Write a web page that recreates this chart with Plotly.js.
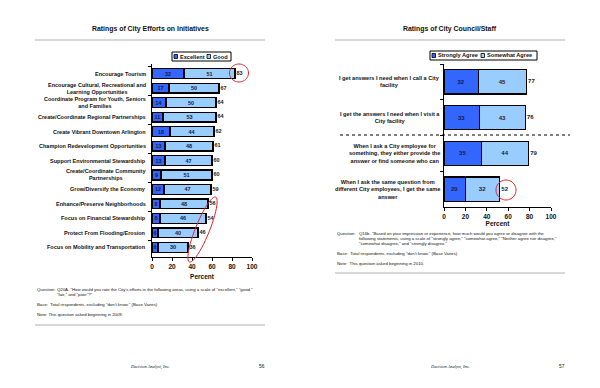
<!DOCTYPE html>
<html>
<head>
<meta charset="utf-8">
<script src="https://cdn.plot.ly/plotly-3.0.1.min.js"></script>
<style>html,body{margin:0;padding:0;background:#fff;}#chart{width:600px;height:388px;}</style>
</head>
<body>
<div id="chart"></div>
<script>
// ---------- DATA ----------
var initiatives = [
  "Encourage Tourism",
  "Encourage Cultural, Recreational and<br>Learning Opportunities",
  "Coordinate Program for Youth, Seniors<br>and Families",
  "Create/Coordinate Regional Partnerships",
  "Create Vibrant Downtown Arlington",
  "Champion Redevelopment Opportunities",
  "Support Environmental Stewardship",
  "Create/Coordinate Community<br>Partnerships",
  "Grow/Diversify the Economy",
  "Enhance/Preserve Neighborhoods",
  "Focus on Financial Stewardship",
  "Protect From Flooding/Erosion",
  "Focus on Mobility and Transportation"
];
var excellent = [32, 17, 14, 11, 18, 13, 13, 9, 12, 8, 8, 6, 6];
var good      = [51, 50, 50, 53, 44, 48, 47, 51, 47, 48, 46, 40, 30];
var effortTotals = [83, 67, 64, 64, 62, 61, 60, 60, 59, 56, 54, 46, 36];

var statements = [
  "I get answers I need when I call a City<br>facility",
  "I get the answers I need when I visit a<br>City facility",
  "When I ask a City employee for<br>something, they either provide the<br>answer or find someone who can",
  "When I ask the same question from<br>different City employees, I get the same<br>answer"
];
var stronglyAgree  = [32, 33, 35, 20];
var somewhatAgree  = [45, 43, 44, 32];
var agreeTotals    = [77, 76, 79, 52];

var xTicks = [0, 20, 40, 60, 80, 100];

// ---------- STYLE ----------
var DARK = "#3366FF", LIGHT = "#99CCFF", INK = "#000000";
var FONT = "Liberation Sans, Arial, sans-serif";
var W = 600, H = 388;
function px(x){ return x / W; }
function py(y){ return 1 - y / H; }

var leftIds = initiatives.map(function(_, i){ return "L" + i; });
var rightIds = statements.map(function(_, i){ return "R" + i; });

function barTrace(ids, vals, color, name, xa, ya, size){
  return {
    type: "bar", orientation: "h", x: vals, y: ids, name: name,
    xaxis: xa, yaxis: ya,
    marker: {color: color, line: {color: INK, width: 1.2}},
    text: vals.map(String), textposition: "inside", insidetextanchor: "middle",
    constraintext: "none", textangle: 0,
    textfont: {family: FONT, size: size, color: "#1a1a40", weight: "bold"},
    hoverinfo: "x+y", showlegend: false
  };
}
function totalTrace(ids, vals, xa, ya, size){
  return {
    type: "scatter", mode: "text", x: vals, y: ids, xaxis: xa, yaxis: ya,
    text: vals.map(function(v){ return "\u00a0" + v; }), textposition: "middle right",
    textfont: {family: FONT, size: size, color: "#222", weight: "bold"},
    hoverinfo: "skip", showlegend: false, cliponaxis: false
  };
}

var data = [
  barTrace(leftIds, excellent, DARK, "Excellent", "x", "y", 5.5),
  barTrace(leftIds, good, LIGHT, "Good", "x", "y", 5.5),
  totalTrace(leftIds, effortTotals, "x", "y", 5.5),
  barTrace(rightIds, stronglyAgree, DARK, "Strongly Agree", "x2", "y2", 6),
  barTrace(rightIds, somewhatAgree, LIGHT, "Somewhat Agree", "x2", "y2", 6),
  totalTrace(rightIds, agreeTotals, "x2", "y2", 6)
];

function xAxis(domain, anchor, standoff){
  return {
    domain: domain, anchor: anchor, range: [0, 100], tickvals: xTicks,
    showline: true, linecolor: INK, linewidth: 1.2, ticks: "outside", ticklen: 3,
    tickcolor: INK, showgrid: false, zeroline: false, fixedrange: true,
    tickfont: {family: FONT, size: 6.5, color: "#111", weight: "bold"},
    title: {text: "Percent", font: {family: FONT, size: 6.5, color: "#111", weight: "bold"}, standoff: standoff}
  };
}
function yAxis(domain, anchor){
  return {
    domain: domain, anchor: anchor, type: "category", autorange: "reversed",
    showline: true, linecolor: INK, linewidth: 1.2, ticks: "outside", ticklen: 3,
    tickcolor: INK, tickson: "boundaries", showticklabels: false, showgrid: false,
    zeroline: false, fixedrange: true
  };
}

var annotations = [];
var shapes = [];

// category labels (centered multi-line, right edge near axis)
initiatives.forEach(function(t, i){
  annotations.push({xref: "paper", yref: "y", x: px(148), y: leftIds[i], xanchor: "right",
    yanchor: "middle", align: "center", text: t, showarrow: false,
    font: {family: FONT, size: 5.5, color: "#111", weight: "bold"}});
});
statements.forEach(function(t, i){
  annotations.push({xref: "paper", yref: "y2", x: px(442), y: rightIds[i], xanchor: "right",
    yanchor: "middle", align: "center", text: t, showarrow: false,
    font: {family: FONT, size: 5.6, color: "#111", weight: "bold"}});
});

function txt(x, y, text, size, opts){
  var a = {xref: "paper", yref: "paper", x: px(x), y: py(y), text: text, showarrow: false,
    xanchor: "left", yanchor: "middle", align: "left",
    font: {family: FONT, size: size, color: "#111"}};
  for (var k in opts) a[k] = opts[k];
  annotations.push(a);
}
function rect(x0, y0, x1, y1, fill, lw){
  shapes.push({type: "rect", xref: "paper", yref: "paper", x0: px(x0), x1: px(x1), y0: py(y1), y1: py(y0),
    fillcolor: fill, line: {color: INK, width: lw}});
}
function hline(x0, x1, y, color, w, dash){
  shapes.push({type: "line", xref: "paper", yref: "paper", x0: px(x0), x1: px(x1), y0: py(y), y1: py(y),
    line: {color: color, width: w, dash: dash || "solid"}});
}

// titles
txt(150, 29, "<b>Ratings of City Efforts on Initiatives</b>", 6.9, {xanchor: "center"});
txt(450, 29, "<b>Ratings of City Council/Staff</b>", 6.9, {xanchor: "center"});
hline(35, 265, 40, "#b0b0b0", 1);
hline(335, 565, 40, "#b0b0b0", 1);

// legends
rect(172, 52, 231, 61, "rgba(0,0,0,0)", 1);
rect(174, 54.5, 177.5, 58.5, DARK, 0.8);
txt(178, 56.5, "<b>Excellent</b>", 5.6);
rect(207, 54.5, 210.5, 58.5, LIGHT, 0.8);
txt(211, 56.5, "<b>Good</b>", 5.6);

rect(430, 51, 537, 60, "rgba(0,0,0,0)", 1);
rect(432, 53.5, 435.5, 57.5, DARK, 0.8);
txt(436, 55.5, "<b>Strongly Agree</b>", 5.6);
rect(481, 53.5, 484.5, 57.5, LIGHT, 0.8);
txt(485, 55.5, "<b>Somewhat Agree</b>", 5.6);

// dotted separator on the right chart
hline(340, 570, 135, INK, 1.2, "dot");

// footnotes left
var fs = 4.3;
txt(35, 289, "Question:", fs);
txt(55, 289, "Q20A. \"How would you rate the City's efforts in the following areas, using a scale of \"excellent,\" \"good,\"", fs);
txt(55, 294, "\"fair,\" and \"poor\"?\"", fs);
txt(35, 304, "Base:  Total respondents, excluding \"don't know.\" (Base Varies)", fs);
txt(35, 314, "Note: This question asked beginning in 2009.", fs);
hline(35, 265, 325, "#b0b0b0", 1);

// footnotes right
txt(335, 233, "Question:", fs);
txt(357, 233, "Q16b. \"Based on your impression or experience, how much would you agree or disagree with the", fs);
txt(357, 238, "following statements, using a scale of \"strongly agree,\" \"somewhat agree,\" \"Neither agree nor disagree,\"", fs);
txt(357, 243, "\"somewhat disagree,\" and \"strongly disagree.\"", fs);
txt(335, 253, "Base:  Total respondents, excluding \"don't know.\" (Base Varies)", fs);
txt(335, 263, "Note:  This question asked beginning in 2010.", fs);
hline(335, 565, 273, "#b0b0b0", 1);

// page footers
var serif = {family: "Liberation Serif, Times New Roman, serif", size: 4.4, color: "#111"};
txt(150, 367, "<i>Decision Analyst, Inc.</i>", 4.4, {xanchor: "center", font: serif});
txt(262, 366, "56", 4.8, {xanchor: "center"});
txt(450, 367, "<i>Decision Analyst, Inc.</i>", 4.4, {xanchor: "center", font: serif});
txt(562, 366, "57", 4.8, {xanchor: "center"});

// red highlight circles / ellipse (decorations, pixel positioned)
function ellipsePath(cx, cy, a, b, angDeg){
  var t = angDeg * Math.PI / 180, p = "";
  for (var k = 0; k <= 48; k++){
    var u = 2 * Math.PI * k / 48;
    var ex = a * Math.cos(u), ey = b * Math.sin(u);
    var X = cx + ex * Math.cos(t) - ey * Math.sin(t);
    var Y = cy + ex * Math.sin(t) + ey * Math.cos(t);
    p += (k === 0 ? "M" : "L") + px(X).toFixed(5) + "," + py(Y).toFixed(5);
  }
  return p + "Z";
}
shapes.push({type: "path", xref: "paper", yref: "paper", path: ellipsePath(239, 73, 9.5, 9, 0), line: {color: "#e0242a", width: 1}});
shapes.push({type: "path", xref: "paper", yref: "paper", path: ellipsePath(202.5, 229.5, 7, 35, 22), line: {color: "#e0242a", width: 1}});
shapes.push({type: "path", xref: "paper", yref: "paper", path: ellipsePath(506, 190, 10, 10, 0), line: {color: "#e0242a", width: 1}});

var layout = {
  width: W, height: H, margin: {l: 0, r: 0, t: 0, b: 0},
  paper_bgcolor: "#fff", plot_bgcolor: "rgba(0,0,0,0)",
  barmode: "stack", bargap: 0.32, showlegend: false,
  font: {family: FONT, color: "#111"},
  xaxis: xAxis([px(152), px(252)], "y", 5),
  yaxis: yAxis([py(257), py(64)], "x"),
  xaxis2: xAxis([px(444), px(551)], "y2", 2),
  yaxis2: yAxis([py(207), py(64)], "x2"),
  annotations: annotations, shapes: shapes
};

Plotly.newPlot("chart", data, layout, {staticPlot: true, displayModeBar: false});
</script>
</body>
</html>
